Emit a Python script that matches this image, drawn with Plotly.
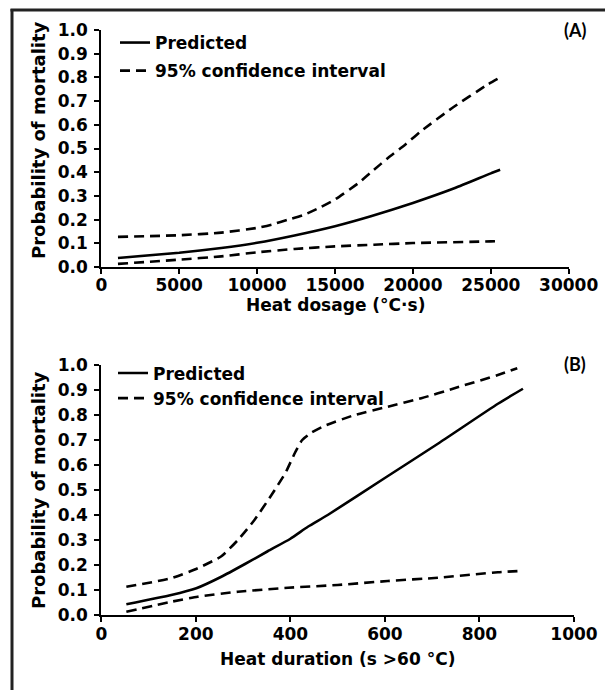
import plotly.graph_objects as go

# ---------------- data ----------------
dosage_pred_x = [1070, 5000, 7700, 10000, 12400, 15000, 17300, 20000, 22700, 25000, 25600]
dosage_pred_y = [0.038, 0.060, 0.080, 0.102, 0.133, 0.172, 0.214, 0.27, 0.333, 0.395, 0.41]

dosage_upper_x = [1070, 5000, 7700, 10000, 11000, 12000, 13000, 14000, 15000, 16500, 17500,
                  18400, 19500, 20500, 22500, 24800, 25600]
dosage_upper_y = [0.127, 0.134, 0.145, 0.165, 0.18, 0.20, 0.22, 0.25, 0.285, 0.354, 0.41,
                  0.46, 0.516, 0.572, 0.67, 0.77, 0.80]

dosage_lower_x = [1070, 5000, 7700, 10000, 12400, 15000, 17500, 20000, 25000, 25600]
dosage_lower_y = [0.013, 0.031, 0.045, 0.062, 0.076, 0.087, 0.094, 0.101, 0.108, 0.11]

duration_pred_x = [53, 148, 201, 254, 303, 352, 400, 437, 479, 599, 712, 839, 892]
duration_pred_y = [0.043, 0.08, 0.107, 0.153, 0.203, 0.255, 0.305, 0.353, 0.40, 0.547, 0.685, 0.845, 0.905]

duration_upper_x = [53, 148, 204, 254, 289, 324, 360, 390, 410, 425, 445, 470, 536, 606, 677, 747, 839, 880]
duration_upper_y = [0.113, 0.147, 0.187, 0.235, 0.30, 0.38, 0.48, 0.57, 0.65, 0.70, 0.73, 0.755,
                    0.80, 0.833, 0.867, 0.907, 0.96, 0.987]

duration_lower_x = [53, 148, 204, 289, 395, 500, 606, 712, 839, 893]
duration_lower_y = [0.013, 0.053, 0.073, 0.093, 0.109, 0.12, 0.136, 0.149, 0.171, 0.177]

y_title = "Probability of mortality"
xa_title = "Heat dosage (°C·s)"
xb_title = "Heat duration (s >60 °C)"
panel_labels = ["(A)", "(B)"]
name_pred = "Predicted"
name_ci = "95% confidence interval"

# ---------------- figure ----------------
W, H = 605, 690
FONT = "DejaVu Sans"
DASH = "10px,6px"
LW = 2.6
FS = 17


def px(x):
    return x / W


def py(y):
    return 1 - y / H


fig = go.Figure()
SM = 0.5

# Panel A
fig.add_trace(go.Scatter(x=dosage_pred_x, y=dosage_pred_y, mode="lines", name=name_pred,
                         line=dict(color="black", width=LW, shape="spline", smoothing=SM),
                         xaxis="x", yaxis="y", legend="legend", legendgroup="a1"))
fig.add_trace(go.Scatter(x=dosage_upper_x, y=dosage_upper_y, mode="lines", name=name_ci,
                         line=dict(color="black", width=LW, dash=DASH, shape="spline", smoothing=SM),
                         xaxis="x", yaxis="y", legend="legend", legendgroup="a2"))
fig.add_trace(go.Scatter(x=dosage_lower_x, y=dosage_lower_y, mode="lines", name=name_ci,
                         showlegend=False,
                         line=dict(color="black", width=LW, dash=DASH, shape="spline", smoothing=SM),
                         xaxis="x", yaxis="y", legendgroup="a2"))

# Panel B
fig.add_trace(go.Scatter(x=duration_pred_x, y=duration_pred_y, mode="lines", name=name_pred,
                         line=dict(color="black", width=LW, shape="spline", smoothing=SM),
                         xaxis="x2", yaxis="y2", legend="legend2", legendgroup="b1"))
fig.add_trace(go.Scatter(x=duration_upper_x, y=duration_upper_y, mode="lines", name=name_ci,
                         line=dict(color="black", width=LW, dash=DASH, shape="spline", smoothing=SM),
                         xaxis="x2", yaxis="y2", legend="legend2", legendgroup="b2"))
fig.add_trace(go.Scatter(x=duration_lower_x, y=duration_lower_y, mode="lines", name=name_ci,
                         showlegend=False,
                         line=dict(color="black", width=LW, dash=DASH, shape="spline", smoothing=SM),
                         xaxis="x2", yaxis="y2", legendgroup="b2"))

tickfont = dict(family=FONT, size=FS, color="black", weight="bold")
common = dict(showline=True, linewidth=2, linecolor="black", ticks="outside", ticklen=5,
              tickwidth=2, tickcolor="black", showgrid=False, zeroline=False,
              tickfont=tickfont, automargin=False, fixedrange=True)

fig.update_layout(
    template="none",
    width=W, height=H,
    margin=dict(l=0, r=0, t=0, b=0),
    paper_bgcolor="white", plot_bgcolor="white",
    font=dict(family=FONT, size=FS, color="black"),
    xaxis=dict(domain=[px(101.3), px(568.7)], range=[0, 30000], dtick=5000, tickformat="d",
               ticklabelstandoff=-3, anchor="y", **common),
    yaxis=dict(domain=[py(267), py(30)], range=[0, 1], dtick=0.1, tickformat=".1f",
               ticklabelstandoff=3, anchor="x", **common),
    xaxis2=dict(domain=[px(101.3), px(574)], range=[0, 1000], dtick=200, tickformat="d",
                ticklabelstandoff=-2, anchor="y2", **common),
    yaxis2=dict(domain=[py(615), py(365)], range=[0, 1], dtick=0.1, tickformat=".1f",
                ticklabelstandoff=3, anchor="x2", **common),
    legend=dict(x=px(115), y=py(25), xanchor="left", yanchor="top",
                bgcolor="rgba(0,0,0,0)", borderwidth=0, tracegroupgap=3,
                font=dict(family=FONT, size=FS, color="black", weight="bold")),
    legend2=dict(x=px(113), y=py(355.5), xanchor="left", yanchor="top",
                 bgcolor="rgba(0,0,0,0)", borderwidth=0, tracegroupgap=0,
                 font=dict(family=FONT, size=FS, color="black", weight="bold")),
    showlegend=True,
)

ann_font = dict(family=FONT, size=18, color="black", weight="bold")
fig.add_annotation(text=y_title, xref="paper", yref="paper", x=px(38), y=py(140),
                   textangle=-90, showarrow=False, font=ann_font,
                   xanchor="center", yanchor="middle")
fig.add_annotation(text=y_title, xref="paper", yref="paper", x=px(38), y=py(490),
                   textangle=-90, showarrow=False, font=ann_font,
                   xanchor="center", yanchor="middle")
xfont = dict(family=FONT, size=FS, color="black", weight="bold")
fig.add_annotation(text=xa_title, xref="paper", yref="paper", x=px(335), y=py(305),
                   showarrow=False, font=xfont, xanchor="center", yanchor="middle")
fig.add_annotation(text=xb_title, xref="paper", yref="paper", x=px(337.5), y=py(659),
                   showarrow=False, font=xfont, xanchor="center", yanchor="middle")
fig.add_annotation(text=panel_labels[0], xref="paper", yref="paper", x=px(575), y=py(30),
                   showarrow=False, font=dict(family="Lato", size=18, color="black", weight="bold"),
                   xanchor="center", yanchor="middle")
fig.add_annotation(text=panel_labels[1], xref="paper", yref="paper", x=px(575), y=py(364),
                   showarrow=False, font=dict(family="Lato", size=18, color="black", weight="bold"),
                   xanchor="center", yanchor="middle")

# outer frame (left and top edges)
fig.add_shape(type="line", xref="paper", yref="paper", x0=px(12), x1=px(12), y0=0, y1=py(9),
              line=dict(color="#222222", width=3))
fig.add_shape(type="line", xref="paper", yref="paper", x0=px(10.5), x1=1, y0=py(10), y1=py(10),
              line=dict(color="#222222", width=3))

fig.write_html("out.html", config={"displayModeBar": False},
               post_script="document.body.style.margin='0';document.body.style.overflow='hidden';")
